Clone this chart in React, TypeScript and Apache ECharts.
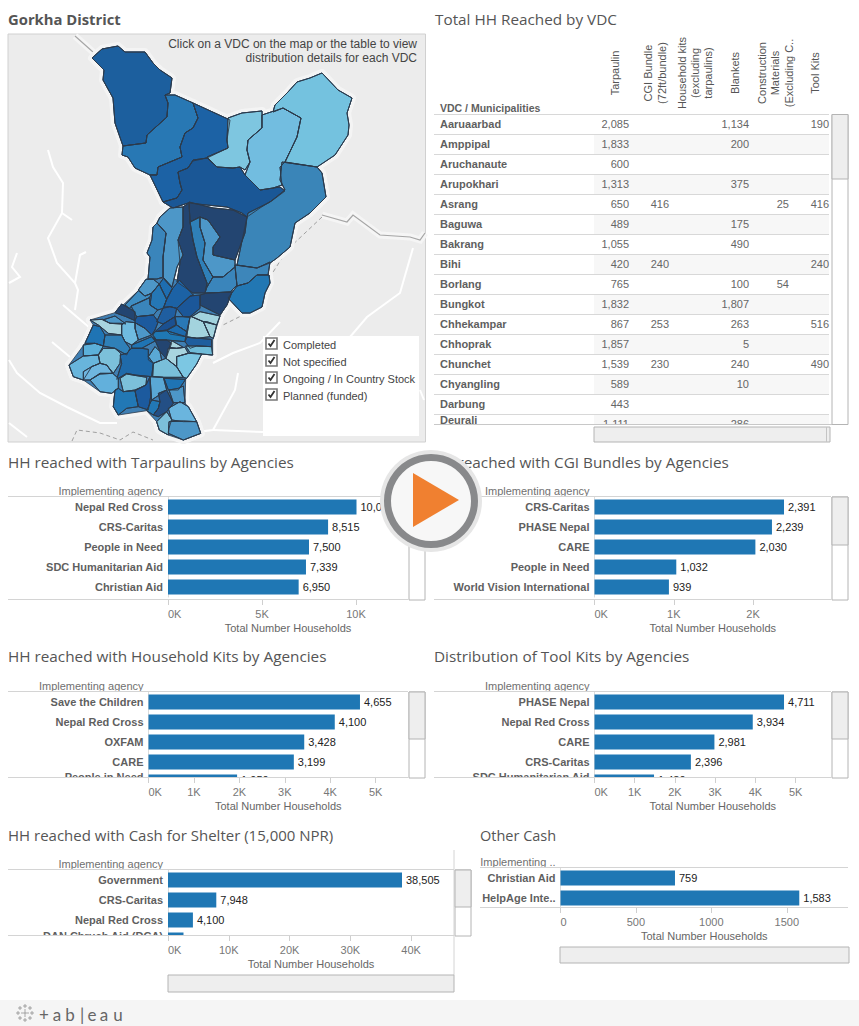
import React, { useEffect, useRef } from "react";
import * as echarts from "echarts";

const SANS = '"Liberation Sans", Arial, sans-serif';
const TITLE = '"Open Sans", "Noto Sans", sans-serif';

// ---------- table data ----------
const vdcNames = ["Aaruaarbad","Amppipal","Aruchanaute","Arupokhari","Asrang","Baguwa","Bakrang","Bihi","Borlang","Bungkot","Chhekampar","Chhoprak","Chunchet","Chyangling","Darbung","Deurali"];
const tarpaulin = [2085,1833,600,1313,650,489,1055,420,765,1832,867,1857,1539,589,443,1111];
const cgiBundle = [null,null,null,null,416,null,null,240,null,null,253,null,230,null,null,null];
const householdKitsCol = vdcNames.map(() => null);
const blankets = [1134,200,null,375,null,175,490,null,100,1807,263,5,240,10,null,286];
const construction = [null,null,null,null,25,null,null,null,54,null,null,null,null,null,null,null];
const toolKits = [190,null,null,null,416,null,null,240,null,null,516,null,490,null,null,null];

// ---------- agency bars ----------
const tarpAgencies = ["Nepal Red Cross","CRS-Caritas","People in Need","SDC Humanitarian Aid","Christian Aid"];
const tarpValues = [10027,8515,7500,7339,6950];
const cgiAgencies = ["CRS-Caritas","PHASE Nepal","CARE","People in Need","World Vision International"];
const cgiValues = [2391,2239,2030,1032,939];
const kitAgencies = ["Save the Children","Nepal Red Cross","OXFAM","CARE","People in Need"];
const kitValues = [4655,4100,3428,3199,1950];
const toolAgencies = ["PHASE Nepal","Nepal Red Cross","CARE","CRS-Caritas","SDC Humanitarian Aid"];
const toolValues = [4711,3934,2981,2396,1480];
const cashAgencies = ["Government","CRS-Caritas","Nepal Red Cross","DAN Chruch Aid (DCA)"];
const cashValues = [38505,7948,4100,2550];
const otherAgencies = ["Christian Aid","HelpAge Inte.."];
const otherValues = [759,1583];

const legendItems = ["Completed","Not specified","Ongoing / In Country Stock","Planned (funded)"];

// ---------- map geometry (page pixels; south part traced in 3x crop pixels) ----------
const northShapes: Record<string, number[][]> = {
  N1: [[92,58],[102,49],[118,46],[125,52],[145,52],[153,63],[160,70],[172,78],[170,93],[165,95],[168,103],[167,117],[147,135],[146,143],[123,146],[115,123],[113,98],[103,80],[104,70]],
  N2: [[123,146],[146,143],[147,135],[167,117],[168,103],[165,95],[175,95],[193,103],[198,118],[193,128],[185,133],[180,147],[182,157],[158,167],[157,175],[150,175],[135,168],[128,157],[122,155]],
  N3: [[193,103],[230,120],[227,140],[228,148],[207,158],[193,161],[188,168],[178,172],[180,183],[182,190],[177,198],[163,202],[150,175],[157,175],[158,167],[182,157],[180,147],[185,133],[193,128],[198,118]],
  N4: [[193,160],[207,158],[217,167],[233,168],[240,167],[245,175],[260,190],[280,187],[285,191],[273,200],[260,208],[247,217],[242,213],[227,207],[207,205],[188,203],[173,208],[163,202],[177,198],[182,190],[180,183],[178,172],[188,168]],
  N5: [[228,118],[242,113],[262,111],[262,128],[248,140],[247,150],[250,162],[245,170],[240,167],[233,168],[217,167],[207,157],[228,148],[227,140]],
  N6: [[262,115],[283,108],[301,118],[297,137],[285,162],[280,167],[282,185],[273,188],[260,190],[245,175],[250,162],[247,150],[248,140],[262,128]],
  N7: [[275,105],[288,92],[297,82],[310,78],[322,73],[338,90],[352,98],[347,113],[349,125],[348,135],[335,155],[317,167],[285,162],[297,137],[301,118],[283,108],[273,112]],
  N8: [[282,162],[317,167],[322,173],[326,197],[310,213],[295,223],[290,247],[277,258],[270,263],[257,268],[237,265],[247,217],[248,213],[270,202],[285,190],[280,180]],
  C1: [[189,202],[213,208],[233,210],[247,217],[245,233],[235,260],[213,255],[213,247],[220,237],[208,220],[200,217],[190,222]],
  C2: [[183,207],[189,203],[190,222],[193,240],[197,257],[207,283],[205,293],[193,293],[177,282],[180,263],[178,240],[183,227]],
  C3: [[160,217],[170,208],[183,207],[183,227],[178,240],[183,255],[177,267],[172,287],[163,277],[163,257],[166,233],[157,223]],
  C4: [[157,223],[166,233],[163,257],[163,277],[157,279],[148,279],[150,257],[147,253],[152,240],[153,227]],
  C5: [[190,222],[200,217],[200,227],[205,243],[203,260],[213,277],[207,287],[207,283],[197,257],[193,240]],
  C6: [[200,217],[208,220],[220,237],[213,247],[213,255],[235,260],[235,267],[223,277],[213,277],[203,260],[205,243],[200,227]],
  C7: [[207,287],[213,277],[223,277],[235,267],[237,285],[230,292],[207,293],[205,293]],
  C8: [[235,265],[257,268],[270,262],[268,275],[257,275],[248,283],[237,286]],
  C9: [[257,275],[269,275],[270,283],[265,293],[262,307],[250,313],[242,313],[228,298],[237,286],[248,283]],
  C10: [[200,295],[207,293],[232,292],[227,305],[220,315],[200,305]],
};
const southShapes: Record<string, number[][]> = {
  S1: [[355,210],[378,178],[400,178],[418,192],[395,220],[375,228]],
  S2: [[418,192],[430,175],[457,205],[440,238],[425,208]],
  S3: [[395,220],[418,192],[425,208],[440,238],[430,265],[413,270],[390,255]],
  S4: [[315,255],[355,212],[375,228],[395,220],[388,234],[335,258],[328,265]],
  S5: [[333,258],[388,233],[390,255],[413,270],[400,285],[350,290]],
  S6: [[285,278],[305,252],[345,275],[345,302],[318,290]],
  S7: [[458,205],[478,180],[520,225],[510,230],[470,265],[450,260],[430,265],[440,238]],
  S8: [[470,265],[510,228],[540,225],[540,265],[510,290],[490,290]],
  S10: [[345,302],[350,290],[400,285],[415,305],[405,330],[395,345],[375,325],[345,308]],
  S11: [[430,262],[450,260],[470,265],[465,290],[430,312],[410,305]],
  S12: [[430,312],[465,290],[467,315],[440,330],[405,335]],
  S13: [[465,290],[490,290],[510,292],[500,335],[470,315]],
  S14: [[440,332],[470,315],[500,335],[497,350],[450,342]],
  S15: [[398,345],[405,335],[440,332],[497,350],[495,365],[440,360],[410,360]],
  S16: [[500,350],[510,290],[515,290],[550,305],[570,350],[530,355]],
  S17: [[515,290],[540,275],[600,288],[590,315],[560,305],[550,305]],
  S18: [[550,305],[590,315],[580,355],[570,350]],
  S19: [[248,300],[285,288],[318,312],[305,310],[270,310]],
  S20: [[210,300],[248,298],[270,310],[305,312],[305,345],[265,340],[235,315]],
  S21: [[345,308],[375,325],[395,345],[355,360],[345,325]],
  S22: [[305,345],[305,315],[318,305],[345,308],[345,325],[355,360],[335,375],[315,365]],
  S23: [[195,370],[220,315],[240,320],[255,345],[250,378],[225,370]],
  S24: [[250,378],[255,345],[305,345],[315,365],[330,385],[320,405],[285,385]],
  S25: [[335,375],[395,350],[407,362],[365,385],[335,385]],
  S26: [[395,350],[410,360],[440,360],[455,370],[438,415],[420,395],[407,365]],
  S27: [[448,382],[455,362],[490,382],[470,385]],
  S28: [[495,365],[500,352],[575,358],[575,380],[530,378],[510,385]],
  S29: [[497,378],[530,378],[575,380],[578,405],[545,402],[510,398]],
  S30: [[445,385],[470,385],[495,382],[505,400],[470,410],[470,440],[438,415]],
  S31: [[385,410],[405,380],[420,395],[425,420],[400,430],[385,420]],
  S32: [[300,405],[320,400],[335,385],[365,385],[385,388],[385,410],[400,430],[395,470],[345,465],[320,460],[290,478],[305,430]],
  S33: [[190,375],[225,370],[250,378],[235,405],[190,408]],
  S34: [[235,405],[250,385],[285,385],[302,400],[300,430],[280,460],[260,435],[240,430]],
  S35: [[147,435],[190,408],[235,405],[240,430],[215,440],[190,480],[160,470]],
  S36: [[190,455],[215,440],[240,430],[260,435],[278,460],[240,460],[210,480],[190,480]],
  S37: [[210,480],[240,462],[278,460],[295,475],[295,505],[275,520],[240,515]],
  S38: [[400,430],[425,420],[438,415],[470,440],[490,472],[430,472],[398,470]],
  S39: [[470,410],[505,400],[545,402],[530,432],[500,475],[490,472],[470,440]],
  S41: [[300,475],[320,462],[380,472],[378,495],[345,510],[310,515]],
  S42: [[285,510],[295,505],[310,515],[345,512],[355,560],[320,565],[295,585],[280,560]],
  S43: [[345,512],[378,495],[390,470],[392,530],[385,570],[355,560]],
  S44: [[390,470],[430,472],[440,510],[395,540]],
  S45: [[432,475],[497,478],[475,510],[445,510]],
  S46: [[380,572],[395,540],[420,545],[415,565],[400,585]],
  S47: [[420,545],[415,520],[440,510],[460,550],[440,575],[415,590],[400,585],[415,565]],
  S48: [[447,510],[475,505],[490,498],[495,548],[460,548]],
  S49: [[445,565],[480,545],[505,560],[530,605],[490,605],[455,600]],
  S50: [[410,605],[440,575],[455,598],[447,625],[445,645],[418,630]],
  S51: [[447,605],[490,603],[530,605],[542,640],[490,660],[445,640]],
};
const southOutline = [[147,435],[195,370],[220,315],[210,300],[285,278],[355,212],[378,178],[430,175],[478,180],[520,180],[640,205],[625,240],[600,288],[578,360],[578,405],[545,402],[497,478],[495,548],[530,605],[542,640],[490,660],[445,645],[418,630],[410,605],[380,572],[295,585],[280,560],[285,510],[240,515],[190,480],[160,470]];
const regionColors: Record<string, string> = {
  N1:"#1c5f9e",N2:"#2878b4",N3:"#1c62a5",N4:"#1a5796",N5:"#7ec6e0",N6:"#72bde0",N7:"#74c2df",N8:"#3a85b8",
  C1:"#234571",C2:"#234571",C3:"#4d97c8",C4:"#3a85bb",C5:"#2f80b8",C6:"#4d97c8",C7:"#3a85bb",C8:"#3d86ba",C9:"#2277b3",C10:"#234571",
  S1:"#4d97c8",S2:"#1e6db0",S3:"#2577b5",S4:"#3e8dc2",S5:"#3a85bb",S6:"#234571",S7:"#1c62a5",S8:"#1b5799",
  S10:"#1c5a9e",S11:"#1f5ea0",S12:"#1b5090",S13:"#2a78b5",S14:"#1d6bae",S15:"#1f78b4",S16:"#a3d3de",S17:"#a3d3de",S18:"#a3d3de",
  S19:"#4d97c8",S20:"#a8d4df",S21:"#4d97c8",S22:"#6fbbe0",S23:"#1f74b4",S24:"#2f80b8",S25:"#1f74b4",S26:"#234571",S27:"#a8d4df",
  S28:"#1f5e9e",S29:"#6fbbd8",S30:"#a8d4df",S31:"#5aa8d5",S32:"#1f6aaa",S33:"#5cb0da",S34:"#7cc0da",S35:"#68b5dc",S36:"#6fb6df",
  S37:"#62b0dc",S38:"#79bfda",S39:"#7cc7e3",S41:"#7cc0da",S42:"#2278b5",S43:"#1c5a9e",S44:"#5aa8d5",S45:"#1f74b4",S46:"#2278b5",
  S47:"#234f85",S48:"#4d97c8",S49:"#6ab5de",S50:"#7cc0da",S51:"#4d97c8",
};
const whiteRivers = [
  [[48,150],[53,167],[63,183],[62,213],[48,238],[57,263],[75,283],[78,290],[75,310]],
  [[62,213],[72,220]],
  [[75,283],[80,255],[86,252]],
  [[63,305],[77,317],[90,328]],
  [[17,253],[12,267],[20,277],[9,283]],
  [[9,360],[17,373],[40,393],[67,407],[100,423],[117,423]],
  [[52,342],[70,357]],
  [[213,363],[233,353],[260,343],[280,322]],
  [[413,248],[400,293],[367,317],[350,337]],
  [[187,433],[213,430],[235,390],[238,373]],
  [[213,430],[263,432]],
  [[9,423],[27,437]],
  [[420,390],[424,400]],
];
const greyBorders = [
  [[75,36],[93,52]],
  [[322,215],[347,222],[353,215],[380,235],[410,237],[420,240],[425,233]],
];
const dashedBorders = [
  [[322,217],[287,250],[270,277],[257,308],[217,328]],
  [[72,441],[77,430],[100,433],[120,440],[133,432],[153,440]],
];

const southToPage = (p: number[]) => [20 + p[0] / 3, 220 + p[1] / 3];
const allShapes: Record<string, number[][]> = { ...northShapes };
Object.keys(southShapes).forEach((k) => { allShapes[k] = southShapes[k].map(southToPage); });

const MAP = { x: 8, y: 34, w: 417.5, h: 408 };
const geoJson = {
  type: "FeatureCollection",
  features: [
    { type: "Feature", properties: { name: "frame" }, geometry: { type: "Polygon", coordinates: [[[MAP.x, MAP.y],[MAP.x + MAP.w, MAP.y],[MAP.x + MAP.w, MAP.y + MAP.h],[MAP.x, MAP.y + MAP.h],[MAP.x, MAP.y]]] } },
    ...Object.keys(allShapes).map((name) => ({
      type: "Feature", properties: { name },
      geometry: { type: "Polygon", coordinates: [[...allShapes[name], allShapes[name][0]]] },
    })),
  ],
};

// ---------- helpers ----------
const txt = (text: string, x: number, y: number, o: any = {}) => ({
  type: "text", x, y, z: o.z ?? 4, rotation: o.rotation ?? 0, silent: true,
  style: { text, fill: o.fill ?? "#555", fontSize: o.size ?? 11, fontFamily: o.family ?? SANS, fontWeight: o.weight ?? "normal", align: o.align ?? "left", verticalAlign: o.valign ?? "middle" },
});
const line = (x1: number, y1: number, x2: number, y2: number, stroke = "#d4d4d4", z = 2, lineWidth = 1) => ({
  type: "line", z, silent: true, shape: { x1, y1, x2, y2 }, style: { stroke, lineWidth },
});
const rect = (x: number, y: number, width: number, height: number, fill: string, stroke = "none", z = 4, lineWidth = 1) => ({
  type: "rect", z, silent: true, shape: { x, y, width, height }, style: { fill, stroke, lineWidth },
});
const vScroll = (x: number, top: number, bottom: number, thumb: number) => [
  rect(x, top, 16, bottom - top, "#fff", "#b4b4b4"),
  rect(x, top, 16, thumb - top, "#eeeeee", "#b4b4b4"),
];
const hScroll = (x1: number, x2: number, top: number, bottom: number) => [
  rect(x1, top, x2 - x1, bottom - top, "#eeeeee", "#b4b4b4"),
];

const fmt = (v: number) => v.toLocaleString("en-US");
const kFmt = (v: number) => `${v / 1000}K`;

const panels = [
  { names: tarpAgencies, values: tarpValues, top: 497, bottomLine: 600, x0: 168, x1: 408, lineFrom: 8, max: 12766, ticks: [0,5000,10000], f: kFmt },
  { names: cgiAgencies, values: cgiValues, top: 497, bottomLine: 600, x0: 594.5, x1: 831, lineFrom: 434, max: 2984, ticks: [0,1000,2000], f: kFmt },
  { names: kitAgencies, values: kitValues, top: 692, bottomLine: 778, x0: 148.5, x1: 408, lineFrom: 8, max: 5712, ticks: [0,1000,2000,3000,4000,5000], f: kFmt, clipLabelY: 777, valueLift: -2 },
  { names: toolAgencies, values: toolValues, top: 692, bottomLine: 778, x0: 594.5, x1: 831, lineFrom: 434, max: 5879, ticks: [0,1000,2000,3000,4000,5000], f: kFmt, clipLabelY: 777, valueLift: -2 },
  { names: cashAgencies, values: cashValues, top: 870, bottomLine: 936, x0: 168, x1: 454, lineFrom: 8, max: 47062, ticks: [0,10000,20000,30000,40000], f: kFmt, clipLabelY: 936, valueLift: 2 },
  { names: otherAgencies, values: otherValues, top: 868, bottomLine: 908, x0: 560.5, x1: 848, lineFrom: 480, max: 1906, ticks: [0,500,1000,1500], f: (v: number) => String(v) },
];

function buildOption() {
  const grids: any[] = [], xAxes: any[] = [], yAxes: any[] = [], series: any[] = [];
  panels.forEach((p: any, i) => {
    const rowsH = p.names.length * 20;
    const gridBottom = p.top + rowsH;
    const last = p.names.length - 1;
    grids.push({ left: p.x0, top: p.top, width: p.x1 - p.x0, height: rowsH, containLabel: false });
    xAxes.push({
      gridIndex: i, type: "value", min: 0, max: p.max, position: "bottom",
      offset: p.bottomLine - gridBottom, z: 5,
      axisLine: { show: false }, splitLine: { show: false },
      axisTick: { show: true, length: 5, lineStyle: { color: "#cfcfcf" }, customValues: p.ticks },
      axisLabel: { customValues: p.ticks, formatter: p.f, color: "#777", fontSize: 11, fontFamily: SANS, margin: 8, alignMinLabel: "left" },
      name: "Total Number Households", nameLocation: "middle", nameGap: 22,
      nameTextStyle: { color: "#666", fontSize: 11, fontFamily: SANS },
    });
    yAxes.push({
      gridIndex: i, type: "category", inverse: true, z: 1,
      data: p.names,
      axisLine: { show: true, lineStyle: { color: "#dcdcdc" } }, axisTick: { show: false }, splitLine: { show: false },
      axisLabel: {
        interval: 0, color: "#5f5f5f", fontWeight: "bold", fontSize: 11, fontFamily: SANS, margin: 5,
        formatter: (v: string) => (p.clipLabelY && v === p.names[last] ? "" : v),
      },
      name: i === 5 ? "Implementing .." : "Implementing agency", nameLocation: "start", nameGap: 1,
      nameTextStyle: { color: "#707070", fontSize: 11, fontFamily: SANS, align: "right", padding: [0, 5, 0, 0] },
    });
    series.push({
      type: "bar", xAxisIndex: i, yAxisIndex: i, barWidth: 15, z: 2,
      data: p.values.map((v: number, k: number) => (p.valueLift && k === last ? { value: v, label: { offset: [0, p.valueLift] } } : v)),
      itemStyle: { color: "#1f77b4" }, silent: true,
      label: { show: true, position: "right", distance: 4, color: "#222", fontSize: 11, fontFamily: SANS, formatter: (d: any) => fmt(d.value) },
    });
  });
  const border = { borderColor: "#2e3b4a", borderWidth: 1 };
  series.push({
    type: "map", map: "gorkha", projection: { project: (p: number[]) => p, unproject: (p: number[]) => p },
    left: MAP.x, top: MAP.y, width: MAP.w, height: MAP.h, roam: false, silent: true, z: 2,
    label: { show: false }, emphasis: { disabled: true }, select: { disabled: true },
    itemStyle: border,
    data: [
      { name: "frame", value: 0, itemStyle: { areaColor: "rgba(0,0,0,0)", borderWidth: 0, borderColor: "rgba(0,0,0,0)" } },
      ...Object.keys(allShapes).map((name) => ({ name, value: 1, itemStyle: { areaColor: regionColors[name], ...border } })),
    ],
  });

  const g: any[] = [];
  // page titles
  const titleAt = (t: string, x: number, y: number, size = 15.3, weight = "normal") => g.push(txt(t, x, y, { size, family: TITLE, fill: "#555", weight }));
  titleAt("Gorkha District", 8, 19, 14.8, "bold");
  titleAt("Total HH Reached by VDC", 435, 19);
  titleAt("HH reached with Tarpaulins by Agencies", 8, 462);
  titleAt("HH reached with CGI Bundles by Agencies", 431, 462);
  titleAt("HH reached with Household Kits by Agencies", 8, 656);
  titleAt("Distribution of Tool Kits by Agencies", 434, 656);
  titleAt("HH reached with Cash for Shelter (15,000 NPR)", 8, 835, 15);
  titleAt("Other Cash", 480, 835, 14.5);

  // map backdrop
  g.push(rect(MAP.x, MAP.y, MAP.w, MAP.h, "#ececec", "#d0d0d0", 0));
  whiteRivers.forEach((pts) => g.push({ type: "polyline", z: 0, silent: true, shape: { points: pts }, style: { stroke: "#fff", lineWidth: 2, fill: "none" } }));
  greyBorders.forEach((pts) => {
    g.push({ type: "polyline", z: 0, silent: true, shape: { points: pts }, style: { stroke: "#f5f5f5", lineWidth: 7, fill: "none" } });
    g.push({ type: "polyline", z: 0, silent: true, shape: { points: pts }, style: { stroke: "#a5a5a5", lineWidth: 1.2, fill: "none" } });
  });
  dashedBorders.forEach((pts) => g.push({ type: "polyline", z: 0, silent: true, shape: { points: pts }, style: { stroke: "#a0a0a0", lineWidth: 1, fill: "none", lineDash: [4, 3] } }));
  Object.keys(allShapes).forEach((k) => g.push({ type: "polygon", z: 1, silent: true, shape: { points: allShapes[k] }, style: { fill: "none", stroke: "#f4f4f4", lineWidth: 8, lineJoin: "round" } }));
  g.push({ type: "polygon", z: 1, silent: true, shape: { points: southOutline.map(southToPage) }, style: { fill: "#f4f4f4", stroke: "#f4f4f4", lineWidth: 8, lineJoin: "round" } });
  g.push({ type: "polygon", z: 1, silent: true, shape: { points: southOutline.map(southToPage) }, style: { fill: "#3f7fb3", stroke: "#2e3b4a", lineWidth: 0.8 } });
  Object.keys(allShapes).forEach((k) => g.push({ type: "polygon", z: 1, silent: true, shape: { points: allShapes[k] }, style: { fill: "#3f7fb3", stroke: "#3f7fb3", lineWidth: 1 } }));
  // region outlines, above the map series' fills
  Object.keys(allShapes).forEach((k) => g.push({ type: "polygon", z: 3, silent: true, shape: { points: allShapes[k] }, style: { fill: "none", stroke: "#2b3a4c", lineWidth: 0.9, lineJoin: "round" } }));
  g.push(txt("Click on a VDC on the map or the table to view", 417, 44, { align: "right", size: 12, fill: "#444" }));
  g.push(txt("distribution details for each VDC", 417, 58, { align: "right", size: 12, fill: "#444" }));

  // legend panel with check boxes
  g.push(rect(263, 336, 156, 100, "#fff", "none", 3));
  legendItems.forEach((t, i) => {
    const y = 338 + i * 17;
    g.push(rect(266, y, 11, 11, "#fff", "#777", 4, 1.6));
    g.push({ type: "polyline", z: 4, silent: true, shape: { points: [[268.5, y + 5.5],[270.5, y + 8],[274.5, y + 2]] }, style: { stroke: "#333", lineWidth: 1.8, fill: "none" } });
    g.push(txt(t, 283, y + 6.5, { fill: "#444" }));
  });

  // table
  const colRight = [629, 669, 709, 749, 789, 829];
  const cols = [tarpaulin, cgiBundle, householdKitsCol, blankets, construction, toolKits];
  vdcNames.forEach((name, r) => {
    const top = 114.5 + r * 20;
    if (r % 2 === 1) g.push(rect(594, top, 235, 20, "#f7f7f7", "none", 0));
    g.push(line(434, top, 829, top, "#d8d8d8", 1));
    g.push(txt(name, 440, r === 15 ? 419.5 : top + 9.5, { weight: "bold", fill: "#5f5f5f", z: 2 }));
    cols.forEach((c, ci) => {
      const v = c[r];
      if (v != null) g.push(txt(fmt(v as number), colRight[ci], top + 9.5, { align: "right", fill: "#666", z: 2 }));
    });
  });
  g.push(rect(430, 424.5, 400, 20, "#fff", "none", 3));
  g.push(line(434, 424.5, 832, 424.5, "#c8c8c8", 4));
  g.push(txt("VDC / Municipalities", 440, 108, { weight: "bold", fill: "#5f5f5f", size: 10.5 }));
  const headers: [string, number][] = [
    ["Tarpaulin", 615],
    ["CGI Bundle", 648], ["(72ft/bundle)", 662],
    ["Household kits", 682], ["(excluding", 695], ["tarpaulins)", 708],
    ["Blankets", 735],
    ["Construction", 762], ["Materials", 775], ["(Excluding C..", 789],
    ["Tool Kits", 815],
  ];
  headers.forEach(([t, x]) => g.push(txt(t, x, 73, { rotation: Math.PI / 2, align: "center", fill: "#555" })));
  g.push(...vScroll(832, 114.5, 424.5, 179));
  g.push(...hScroll(594, 830, 427, 442));
  g.push(line(826.5, 427, 826.5, 442, "#c4c4c4", 5));

  // panel rules, clip covers, clipped row labels, scroll bars
  panels.forEach((p: any) => {
    const gridBottom = p.top + p.names.length * 20;
    if (gridBottom > p.bottomLine) g.push(rect(p.lineFrom - 2, p.bottomLine, p.x1 - p.lineFrom + 4, gridBottom - p.bottomLine + 2, "#fff", "none", 3));
    if (p.clipLabelY) g.push(txt(p.names[p.names.length - 1], p.x0 - 5, p.clipLabelY, { align: "right", weight: "bold", fill: "#5f5f5f", z: 2 }));
    g.push(line(p.lineFrom, p.top - 0.5, p.x1, p.top - 0.5, "#d4d4d4", 4));
    g.push(line(p.lineFrom, p.bottomLine - 0.5, p.x1, p.bottomLine - 0.5, "#d4d4d4", 4));
  });
  g.push(...vScroll(409, 497, 600, 545));
  g.push(...vScroll(832, 497, 600, 545));
  g.push(...vScroll(409, 692, 778, 739));
  g.push(...vScroll(832, 692, 778, 739));
  g.push(...vScroll(455, 870, 936, 907));
  g.push(line(454, 850, 454, 975, "#d4d4d4", 4));
  g.push(...hScroll(168, 454, 975, 992));
  g.push(...hScroll(560, 849, 947, 963));

  // footer
  g.push(rect(0, 1000, 859, 26, "#f5f5f5", "none", 4));
  [[0,0,4],[-7,0,2],[7,0,2],[0,-7,2],[0,7,2],[-5,-5,2],[5,-5,2],[-5,5,2],[5,5,2]].forEach(([dx,dy,s]) => {
    g.push(line(25+dx-s, 1013+dy, 25+dx+s, 1013+dy, "#888", 5, 0.7));
    g.push(line(25+dx, 1013+dy-s, 25+dx, 1013+dy+s, "#888", 5, 0.7));
  });
  const wordmark: [string, number][] = [["+",44],["a",57],["b",70],["|",82],["e",92],["a",104],["u",118]];
  wordmark.forEach(([t, x]) => g.push(txt(t, x, 1014, { size: 17, family: "Lato, sans-serif", fill: "#666", align: "center", z: 5 })));

  // play button overlay
  g.push({ type: "circle", z: 10, silent: true, shape: { cx: 431, cy: 501, r: 51 }, style: { fill: "#e6e6e6" } });
  g.push({ type: "circle", z: 10, silent: true, shape: { cx: 431, cy: 501, r: 47 }, style: { fill: "#88898b" } });
  g.push({ type: "circle", z: 10, silent: true, shape: { cx: 431, cy: 501, r: 40 }, style: { fill: "#f7f7f7" } });
  g.push({ type: "polygon", z: 10, silent: true, shape: { points: [[413,473],[459,500],[413,527]] }, style: { fill: "#f08030" } });

  return {
    animation: false, backgroundColor: "#fff", tooltip: { show: false },
    grid: grids, xAxis: xAxes, yAxis: yAxes, series, graphic: { elements: g },
  };
}

export default function App() {
  const ref = useRef<HTMLDivElement>(null);
  useEffect(() => {
    document.body.style.margin = "0";
    echarts.registerMap("gorkha", geoJson as any);
    const chart = echarts.init(ref.current!, undefined, { renderer: "svg" });
    chart.setOption(buildOption() as any);
    return () => chart.dispose();
  }, []);
  return <div ref={ref} style={{ width: 859, height: 1026 }} />;
}
